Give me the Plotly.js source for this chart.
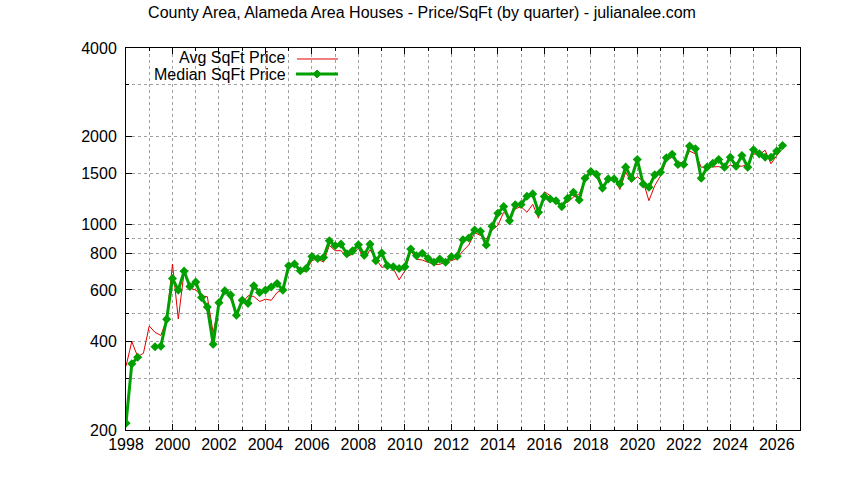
<!DOCTYPE html>
<html>
<head>
<meta charset="utf-8">
<script src="https://cdn.plot.ly/plotly-3.0.1.min.js"></script>
<style>html,body{margin:0;padding:0;background:#fff;}#chart{width:844px;height:480px;}</style>
</head>
<body>
<div id="chart"></div>
<script>
// Quarterly series, first value = 1998 Q1, step = one quarter
const startYear = 1998;
const avgPrice = [
  330, 400, 356, 365,
  452, 430, 420, 476,
  735, 478, 690, 609,
  600, 572, 569, 428,
  536, 597, 558, 505,
  540, 573, 570, 548,
  558, 553, 588, 602,
  725, 735, 690, 697,
  755, 766, 746, 851,
  816, 816, 780, 794,
  832, 764, 822, 764,
  716, 722, 710, 649,
  697, 816, 764, 758,
  745, 733, 733, 748,
  755, 768, 816, 853,
  940, 920, 893, 960,
  994, 1103, 1061, 1133,
  1153, 1103, 1174, 1053,
  1295, 1258, 1198, 1174,
  1193, 1241, 1274, 1422,
  1500, 1530, 1359, 1416,
  1441, 1318, 1510, 1397,
  1458, 1404, 1208, 1359,
  1468, 1655, 1700, 1621,
  1635, 1782, 1744, 1571,
  1571, 1578, 1578, 1556,
  1596, 1583, 1583, 1605,
  1744, 1734, 1794, 1613,
  1721, 1814
];
const medianPrice = [
  211, 336, 354, null,
  null, 384, 386, 477,
  656, 599, 695, 616,
  638, 565, 525, 392,
  543, 596, 577, 492,
  553, 540, 620, 588,
  599, 614, 631, 599,
  725, 735, 697, 710,
  780, 768, 774, 882,
  848, 859, 797, 815,
  855, 788, 859, 754,
  801, 725, 719, 710,
  719, 827, 784, 800,
  768, 745, 764, 745,
  778, 781, 889, 901,
  960, 950, 853, 988,
  1094, 1153, 1033, 1169,
  1172, 1251, 1274, 1103,
  1248, 1224, 1208, 1153,
  1231, 1290, 1215, 1441,
  1518, 1483, 1333, 1433,
  1433, 1378, 1571, 1441,
  1668, 1378, 1343, 1479,
  1510, 1690, 1739, 1604,
  1604, 1853, 1814, 1441,
  1571, 1621, 1668, 1571,
  1699, 1583, 1721, 1571,
  1800, 1744, 1699, 1699,
  1782, 1862
];
const yMajorTicks = [200, 400, 600, 800, 1000, 1500, 2000, 4000];
const yMinorTicks = [300, 500, 700, 900, 3000];
const xMajorTicks = [1998, 2000, 2002, 2004, 2006, 2008, 2010, 2012, 2014, 2016, 2018, 2020, 2022, 2024, 2026];
const xMinorTicks = [1999, 2001, 2003, 2005, 2007, 2009, 2011, 2013, 2015, 2017, 2019, 2021, 2023, 2025];
const titleText = "County Area, Alameda Area Houses - Price/SqFt (by quarter) - julianalee.com";
const avgName = "Avg SqFt Price";
const medianName = "Median SqFt Price";

const xq = (arr) => arr.map((_, i) => startYear + i * 0.25);

const FONT = "Liberation Sans, Arial, sans-serif";
const FS = 16;
const RED = "#e00000";
const GREEN = "#00a000";
const GRID = "#a0a0a0";

const traces = [
  {
    x: xq(avgPrice), y: avgPrice, type: "scatter", mode: "lines",
    name: avgName, line: {color: RED, width: 1}, connectgaps: false, showlegend: false
  },
  {
    x: xq(medianPrice), y: medianPrice, type: "scatter", mode: "lines+markers",
    name: medianName, line: {color: GREEN, width: 3},
    marker: {color: GREEN, symbol: "diamond", size: 7},
    connectgaps: false, showlegend: false
  }
];

const px2x = (px) => (px - 126) / 674;
const py2y = (py) => (430.5 - py) / 382.5;

const layout = {
  width: 844, height: 480,
  margin: {l: 126, r: 44, t: 48, b: 50, pad: 0},
  paper_bgcolor: "#ffffff", plot_bgcolor: "#ffffff",
  font: {family: FONT, size: FS, color: "#000"},
  showlegend: false,
  title: {
    text: titleText, xref: "container", x: 0.5, xanchor: "center",
    yref: "container", y: 1 - 12 / 480, yanchor: "middle",
    font: {family: FONT, size: FS, color: "#000"}
  },
  xaxis: {
    range: [1998, 2027], tickmode: "array", tickvals: xMajorTicks,
    ticktext: xMajorTicks.map(String),
    ticks: "inside", ticklen: 6, tickcolor: "#000", tickwidth: 1,
    showline: true, mirror: "ticks", linecolor: "#000", linewidth: 1,
    showgrid: true, gridcolor: GRID, gridwidth: 1, griddash: "3px,3px",
    zeroline: false, tickfont: {family: FONT, size: FS, color: "#000"},
    minor: {tickmode: "array", tickvals: xMinorTicks, ticks: "inside", ticklen: 3,
            tickcolor: "#000", showgrid: true, gridcolor: GRID, gridwidth: 1, griddash: "3px,3px"}
  },
  yaxis: {
    type: "log", range: [Math.log10(200), Math.log10(4000)],
    tickmode: "array", tickvals: yMajorTicks, ticktext: yMajorTicks.map(String),
    ticks: "inside", ticklen: 6, tickcolor: "#000", tickwidth: 1,
    showline: true, mirror: "ticks", linecolor: "#000", linewidth: 1,
    showgrid: true, gridcolor: GRID, gridwidth: 1, griddash: "3px,3px",
    zeroline: false, ticklabelstandoff: 5,
    tickfont: {family: FONT, size: FS, color: "#000"},
    minor: {tickmode: "array", tickvals: yMinorTicks, ticks: "inside", ticklen: 3,
            tickcolor: "#000", showgrid: true, gridcolor: GRID, gridwidth: 1, griddash: "3px,3px"}
  },
  annotations: [
    {text: avgName, xref: "paper", yref: "paper", x: px2x(287), y: py2y(58),
     xanchor: "right", yanchor: "middle", showarrow: false, height: 17, borderpad: 0,
     font: {family: FONT, size: FS, color: "#000"}},
    {text: medianName, xref: "paper", yref: "paper", x: px2x(287), y: py2y(75),
     xanchor: "right", yanchor: "middle", showarrow: false, height: 17, borderpad: 0,
     font: {family: FONT, size: FS, color: "#000"}}
  ],
  shapes: [
    {type: "line", xref: "paper", yref: "paper", x0: px2x(297), x1: px2x(338),
     y0: py2y(59), y1: py2y(59), line: {color: RED, width: 1}},
    {type: "line", xref: "paper", yref: "paper", x0: px2x(296), x1: px2x(338),
     y0: py2y(74), y1: py2y(74), line: {color: GREEN, width: 3}},
    {type: "path", xref: "paper", yref: "paper", xsizemode: "pixel", ysizemode: "pixel",
     xanchor: px2x(317), yanchor: py2y(74), path: "M-4,0L0,4L4,0L0,-4Z",
     fillcolor: GREEN, line: {color: GREEN, width: 1}}
  ]
};

Plotly.newPlot("chart", traces, layout, {displayModeBar: false, staticPlot: true});
</script>
</body>
</html>
